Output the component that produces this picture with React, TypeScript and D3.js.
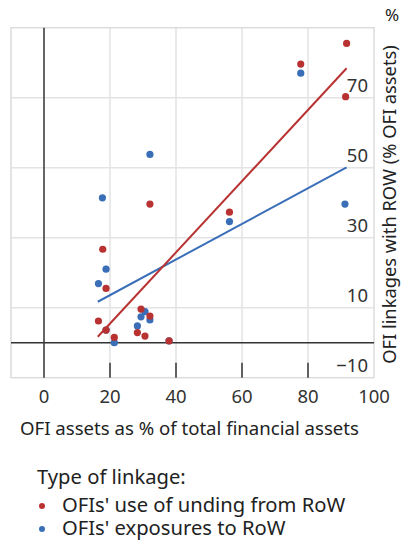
import React from "react";
import * as d3 from "d3";

const xTicks = [0, 20, 40, 60, 80, 100];
const yTicks = [70, 50, 30, 10, -10];
const yTickLabels = ["70", "50", "30", "10", "\u221210"];
const xGrid = [20, 40, 60, 80];
const yGrid = [10, 30, 50, 70];
const xTickMarks = [20, 40, 60, 80];

const redX = [91.7, 77.8, 91.4, 56.2, 32.1, 17.8, 18.8, 16.5, 18.8, 21.3, 29.4, 32.1, 28.3, 30.6, 37.9];
const redY = [85.5, 79.6, 70.3, 37.3, 39.6, 26.7, 15.5, 6.2, 3.6, 1.5, 9.6, 7.6, 2.9, 1.9, 0.5];
const blueX = [77.8, 91.2, 56.2, 32.1, 17.7, 18.8, 16.5, 18.8, 21.3, 30.6, 29.4, 32.1, 28.3, 37.9];
const blueY = [77.0, 39.6, 34.6, 53.8, 41.4, 21.0, 16.9, 3.6, 0.0, 8.9, 7.4, 6.5, 4.8, 0.5];

const redFitX = [16.3, 91.7];
const redFitY = [1.7, 78.4];
const blueFitX = [16.3, 91.7];
const blueFitY = [11.7, 50.1];

const legendTitle = "Type of linkage:";
const legendLabels = ["OFIs' use of unding from RoW", "OFIs' exposures to RoW"];
const xTitle = "OFI assets as % of total financial assets";
const yTitle = "OFI linkages with ROW (% OFI assets)";

const RED = "#b83232";
const BLUE = "#3a6fb8";
const FONT = "'Noto Sans', 'Open Sans', sans-serif";

export default function App() {
  const x = d3.scaleLinear().domain([-10, 100]).range([11, 374]);
  const y = d3.scaleLinear().domain([-10, 90]).range([377.7, 27.7]);
  const line = d3
    .line<[number, number]>()
    .x((d) => x(d[0]))
    .y((d) => y(d[1]));
  const redFit: [number, number][] = redFitX.map((v, i) => [v, redFitY[i]]);
  const blueFit: [number, number][] = blueFitX.map((v, i) => [v, blueFitY[i]]);
  const [x0, x1] = x.range();
  const [y0, y1] = y.range();

  return (
    <svg
      width={402}
      height={544}
      style={{ position: "absolute", left: 0, top: 0, background: "#fff" }}
      fontFamily={FONT}
    >
      {/* grid */}
      {xGrid.map((v) => (
        <line key={"gx" + v} x1={x(v)} x2={x(v)} y1={y1} y2={y0} stroke="#e3e3e3" strokeWidth={1.5} />
      ))}
      {yGrid.map((v) => (
        <line key={"gy" + v} x1={x0} x2={x1} y1={y(v)} y2={y(v)} stroke="#e3e3e3" strokeWidth={1.5} />
      ))}
      <rect x={x0} y={y1} width={x1 - x0} height={y0 - y1} fill="none" stroke="#dcdcdc" strokeWidth={1.5} />
      {/* zero axes */}
      <line x1={x(0)} x2={x(0)} y1={y1} y2={y0} stroke="#333" strokeWidth={1.5} />
      <line x1={x0} x2={x1} y1={y(0)} y2={y(0)} stroke="#333" strokeWidth={1.5} />
      {/* tick marks */}
      {xTickMarks.map((v) => (
        <line key={"tm" + v} x1={x(v)} x2={x(v)} y1={y0 - 15} y2={y0} stroke="#333" strokeWidth={1.5} />
      ))}
      {/* points */}
      {blueX.map((v, i) => (
        <circle key={"b" + i} cx={x(v)} cy={y(blueY[i])} r={3.6} fill={BLUE} />
      ))}
      {redX.map((v, i) => (
        <circle key={"r" + i} cx={x(v)} cy={y(redY[i])} r={3.6} fill={RED} />
      ))}
      {/* fit lines */}
      <path d={line(blueFit) || ""} stroke={BLUE} strokeWidth={2} fill="none" />
      <path d={line(redFit) || ""} stroke={RED} strokeWidth={2} fill="none" />
      {/* y tick labels */}
      {yTicks.map((v, i) => (
        <text key={"yl" + v} x={368} y={y(v) - 6} textAnchor="end" fontSize={18.5} fill="#333">
          {yTickLabels[i]}
        </text>
      ))}
      {/* x tick labels */}
      {xTicks.map((v) => (
        <text key={"xl" + v} x={x(v)} y={403} textAnchor="middle" fontSize={18.5} fill="#333">
          {v}
        </text>
      ))}
      {/* axis titles */}
      <text x={20} y={435} fontSize={18.6} fill="#222">
        {xTitle}
      </text>
      <text
        transform={`translate(395.5, ${(32 + 377) / 2}) rotate(-90)`}
        textAnchor="middle"
        fontSize={18.3}
        fill="#222"
      >
        {yTitle}
      </text>
      <text x={392} y={21} textAnchor="middle" fontSize={17} fill="#222">
        %
      </text>
      {/* legend */}
      <text x={37} y={484} fontSize={20.2} fill="#222">
        {legendTitle}
      </text>
      <circle cx={42} cy={506} r={3} fill={RED} />
      <text x={62} y={511.5} fontSize={20.2} fill="#222">
        {legendLabels[0]}
      </text>
      <circle cx={42} cy={529} r={3} fill={BLUE} />
      <text x={62} y={535} fontSize={20.2} fill="#222">
        {legendLabels[1]}
      </text>
    </svg>
  );
}
